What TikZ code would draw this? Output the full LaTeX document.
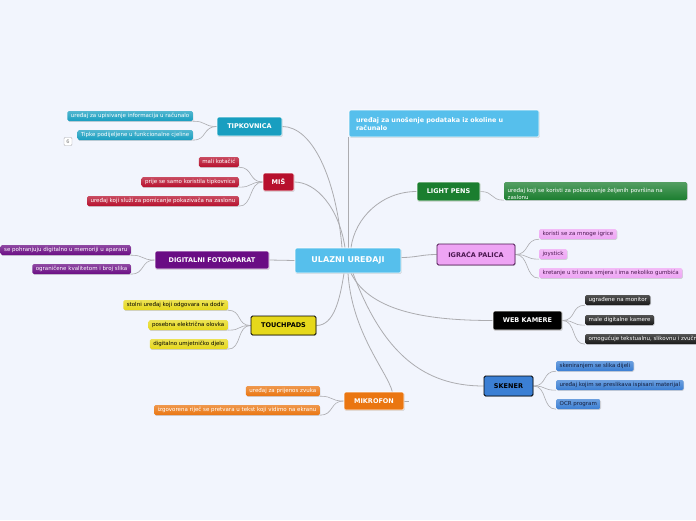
\documentclass[tikz,border=0pt]{standalone}
\usepackage{fontspec}
\setmainfont{DejaVu Sans}
\usetikzlibrary{shadows,calc,backgrounds}
\definecolor{bg}{RGB}{242,245,253}
\definecolor{linec}{RGB}{172,172,176}
\definecolor{cen}{RGB}{86,191,236}
\definecolor{tkc}{RGB}{24,158,192}
\definecolor{misc}{RGB}{183,16,45}
\definecolor{dfc}{RGB}{106,13,132}
\definecolor{tpc}{RGB}{230,216,27}
\definecolor{mkc}{RGB}{234,118,17}
\definecolor{lpc}{RGB}{27,126,47}
\definecolor{igc}{RGB}{238,164,244}
\definecolor{igt}{RGB}{75,23,80}
\definecolor{skc}{RGB}{59,127,212}
\definecolor{skt}{RGB}{20,30,60}
\definecolor{wkc}{RGB}{25,25,25}
\begin{document}
\begin{tikzpicture}[x=1pt,y=-1pt,
  shad/.style={drop shadow={opacity=0.3,shadow xshift=0.6pt,shadow yshift=-0.9pt}},
  mainbox/.style={shad,draw=white,line width=0.6pt,rounded corners=1.5pt,
    font=\fontsize{6.5}{7}\selectfont\bfseries,text=white,inner sep=0pt},
  kid/.style={shad,rounded corners=1.5pt,font=\fontsize{5.5}{6}\selectfont,
    inner xsep=3.5pt,inner ysep=0pt,minimum height=10pt,text height=4.1pt,text depth=1.2pt,
    top color=#1!75!white,bottom color=#1},
  conn/.style={draw=linec,line width=0.8pt}]
\useasboundingbox (0,0) rectangle (696,520);

% central and top nodes
\node[mainbox,fill=cen,minimum width=106pt,minimum height=25pt,font=\fontsize{8}{9}\selectfont\bfseries] (c) at (348,260.5) {ULAZNI UREĐAJI};
\node[mainbox,fill=cen,minimum width=190pt,minimum height=27pt,text width=176pt,align=left,font=\fontsize{6.4}{8}\selectfont\bfseries] (t) at (444,123.5) {uređaj za unošenje podataka iz okoline u\\računalo};

% main nodes
\node[mainbox,fill=tkc,minimum width=65pt,minimum height=19pt] (tk) at (249.5,126.5) {TIPKOVNICA};
\node[mainbox,fill=misc,minimum width=31pt,minimum height=18pt] (mis) at (278.5,182) {MIŠ};
\node[mainbox,fill=dfc,minimum width=114pt,minimum height=18pt] (df) at (212,260) {DIGITALNI FOTOAPARAT};
\node[mainbox,fill=tpc,draw=black,line width=0.8pt,text=black,minimum width=65pt,minimum height=19pt] (tp) at (283.5,325.5) {TOUCHPADS};
\node[mainbox,fill=mkc,minimum width=60pt,minimum height=18pt] (mk) at (374,401) {MIKROFON};
\node[mainbox,fill=lpc,minimum width=63pt,minimum height=19pt] (lp) at (448.5,191.5) {LIGHT PENS};
\node[mainbox,fill=igc,draw=igt,line width=0.8pt,text=igt,minimum width=78pt,minimum height=21pt] (ig) at (476,254.5) {IGRAĆA PALICA};
\node[mainbox,fill=black,minimum width=69pt,minimum height=19pt] (wk) at (527.5,320.5) {WEB KAMERE};
\node[mainbox,fill=skc,draw=black,line width=0.8pt,text=black,minimum width=49pt,minimum height=20pt] (sk) at (508.5,386) {SKENER};

% children
\node[kid=tkc,text=white,anchor=east] (tk1) at (193,116) {uređaj za upisivanje informacija u računalo};
\node[kid=tkc,text=white,anchor=east] (tk2) at (193,135) {Tipke podijeljene u funkcionalne cjeline};
\node[draw=linec,fill=white,rounded corners=1pt,minimum size=8pt,inner sep=0pt,text=gray,font=\fontsize{5}{5}\selectfont] (badge) at (68,141.5) {6};
\node[kid=misc,text=white,anchor=east] (m1) at (239,162) {mali kotačić};
\node[kid=misc,text=white,anchor=east] (m2) at (239,182) {prije se samo koristila tipkovnica};
\node[kid=misc,text=white,anchor=east] (m3) at (239,201) {uređaj koji služi za pomicanje pokazivača na zaslonu};
\node[kid=dfc,text=white,anchor=east] (d1) at (131,250) {se pohranjuju digitalno u memoriji u apararu};
\node[kid=dfc,text=white,anchor=east] (d2) at (131,269) {ograničene kvalitetom i broj slika};
\node[kid=tpc,text=black,anchor=east] (tp1) at (228,305) {stolni uređaj koji odgovara na dodir};
\node[kid=tpc,text=black,anchor=east] (tp2) at (228,325) {posebna električna olovka};
\node[kid=tpc,text=black,anchor=east] (tp3) at (228,344) {digitalno umjetničko djelo};
\node[kid=mkc,text=white,anchor=east] (mk1) at (320,391) {uređaj za prijenos zvuka};
\node[kid=mkc,text=white,anchor=east] (mk2) at (320,410) {izgovorena riječ se pretvara u tekst koji vidimo na ekranu};
\node[kid=lpc,text=white,anchor=west,minimum width=182pt,minimum height=18pt,text width=176pt,align=left,font=\fontsize{5.5}{7}\selectfont] (lp1) at (504,191) {uređaj koji se koristi za pokazivanje željenih površina na\\zaslonu};
\node[kid=igc,text=igt,anchor=west] (ig1) at (539,234) {koristi se za mnoge igrice};
\node[kid=igc,text=igt,anchor=west] (ig2) at (539,254) {joystick};
\node[kid=igc,text=igt,anchor=west] (ig3) at (539,273) {kretanje u tri osna smjera i ima nekoliko gumbića};
\node[kid=wkc,text=white,anchor=west] (wk1) at (585,300) {ugrađene na monitor};
\node[kid=wkc,text=white,anchor=west] (wk2) at (585,320) {male digitalne kamere};
\node[kid=wkc,text=white,anchor=west] (wk3) at (585,339) {omogućuje tekstualnu, slikovnu i zvučnu};
\node[kid=skc,text=skt,anchor=west] (sk1) at (556,366) {skeniranjem se slika dijeli};
\node[kid=skc,text=skt,anchor=west] (sk2) at (556,385) {uređaj kojim se preslikava ispisani materijal};
\node[kid=skc,text=skt,anchor=west] (sk3) at (556,404) {OCR program};

\begin{scope}[on background layer]
\fill[bg] (0,0) rectangle (696,520);
% main connectors
\draw[conn] (c.north) -- (c.north |- t.south);
\draw[conn] (tk.east) .. controls +(30,0) and +(-6,-70) .. ($(c.north)+(-6,0)$);
\draw[conn] (mis.east) .. controls +(22,0) and +(-6,-40) .. ($(c.north)+(-3,0)$);
\draw[conn] (lp.west) .. controls +(-35,0) and +(4,-30) .. ($(c.north)+(3,0)$);
\draw[conn] (ig.west) .. controls +(-15,0) and +(15,0) .. ($(c.east)+(0,-3)$);
\draw[conn] (df.east) -- (c.west);
\draw[conn] (tp.east) .. controls +(18,0) and +(-4,25) .. ($(c.south)+(-4,0)$);
\draw[conn] (c.south) .. controls +(4,60) and +(-5,-20) .. ($(mk.north east)+(-12,0)$);
\draw[conn] (mk.east) -- +(5,0) coordinate (mkstub);
\draw[conn] ($(c.south)+(3,0)$) .. controls +(20,40) and +(-60,0) .. (wk.west);
\draw[conn] ($(c.south)+(5,0)$) .. controls +(30,80) and +(-60,0) .. (sk.west);
% child connectors (left)
\foreach \p/\k in {tk/tk1,tk/tk2,mis/m1,mis/m2,mis/m3,df/d1,df/d2,tp/tp1,tp/tp2,tp/tp3,mk/mk1,mk/mk2}
  \draw[conn,line width=0.6pt] (\p.west) .. controls +(-14,0) and +(14,0) .. (\k.south east);
% child connectors (right)
\foreach \p/\k in {lp/lp1,ig/ig1,ig/ig2,ig/ig3,wk/wk1,wk/wk2,wk/wk3,sk/sk1,sk/sk2,sk/sk3}
  \draw[conn,line width=0.6pt] (\p.east) .. controls +(14,0) and +(-14,0) .. (\k.south west);
\end{scope}
\end{tikzpicture}
\end{document}
